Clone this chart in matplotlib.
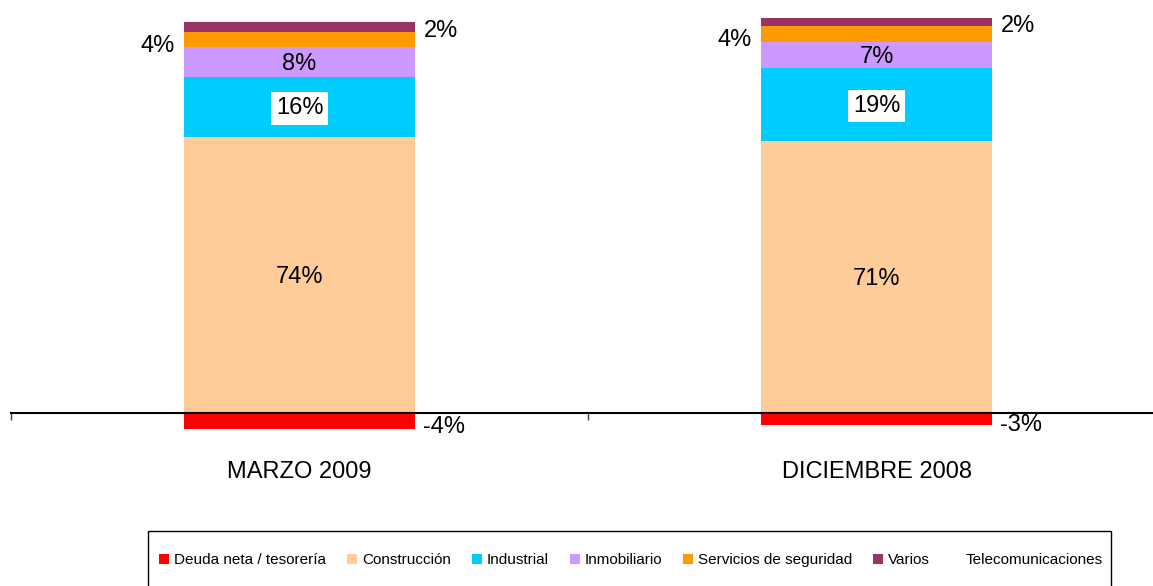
import matplotlib
matplotlib.use("Agg")
import matplotlib.pyplot as plt
from matplotlib.patches import Patch, Rectangle
import numpy as np

plt.rcParams['font.family'] = ['Liberation Sans', 'DejaVu Sans']

categories = ["MARZO 2009", "DICIEMBRE 2008"]
series_names = ["Deuda neta / tesorería", "Construcción", "Industrial", "Inmobiliario",
                "Servicios de seguridad", "Varios", "Telecomunicaciones"]
colors = ["#FF0000", "#FFCC99", "#00CCFF", "#CC99FF", "#FF9900", "#993366", "#FFFFFF"]

deuda = [-4.18, -3.04]
construccion = [73.56, 72.50]
industrial = [16.05, 19.36]
inmobiliario = [7.99, 7.08]
servicios = [3.99, 4.26]
varios = [2.66, 2.13]
telecom = [0.0, 0.0]

lbl_deuda = ["-4%", "-3%"]
lbl_construccion = ["74%", "71%"]
lbl_industrial = ["16%", "19%"]
lbl_inmobiliario = ["8%", "7%"]
lbl_servicios = ["4%", "4%"]
lbl_varios = ["2%", "2%"]

W, H = 1153, 586
fig = plt.figure(figsize=(W / 100, H / 100), dpi=100)
s = 3.756
zero_px = 413.3
ylo, yhi = -10, 110
top_px = zero_px - yhi * s
bot_px = zero_px - ylo * s
ax = fig.add_axes([11 / W, (H - bot_px) / H, 1154 / W, (bot_px - top_px) / H])
ax.set_xlim(-0.5, 1.5)
ax.set_ylim(ylo, yhi)

x = np.arange(len(categories))
bw = 0.4
ax.bar(x, deuda, bw, color=colors[0], zorder=1)
pos_series = [construccion, industrial, inmobiliario, servicios, varios, telecom]
bottom = np.zeros(len(categories))
centers = []
for vals, c in zip(pos_series, colors[1:]):
    vals = np.array(vals)
    ax.bar(x, vals, bw, bottom=bottom, color=c, zorder=1)
    centers.append(bottom + vals / 2)
    bottom = bottom + vals

fs = 17
def lab(xi, yc, text, dx_px, dy_px, ha, box=False):
    kw = {}
    if box:
        kw['bbox'] = dict(boxstyle='square,pad=0.22', facecolor='white', edgecolor='none')
    ax.annotate(text, xy=(xi, yc), xytext=(dx_px, -dy_px), textcoords='offset pixels',
                ha=ha, va='baseline', fontsize=fs, color='black', zorder=5, **kw)

half_px = bw / 2 * 577
for i in range(len(categories)):
    lab(x[i], centers[0][i], lbl_construccion[i], 0, 8, 'center')
    lab(x[i], centers[1][i], lbl_industrial[i], 0, 7.5, 'center', box=True)
    lab(x[i], centers[2][i], lbl_inmobiliario[i], 0, 7.8, 'center')
    lab(x[i], centers[3][i], lbl_servicios[i], -half_px - 9, 12.5, 'right')
    lab(x[i], centers[4][i], lbl_varios[i], half_px + 8.5, 10, 'left')
    lab(x[i], deuda[i] / 2, lbl_deuda[i], half_px + 8.5, 11.5, 'left')
    ax.annotate(categories[i], xy=(x[i], 0), xytext=(0, -64.7), textcoords='offset pixels',
                ha='center', va='baseline', fontsize=fs, color='black')

for sp in ['top', 'right', 'left']:
    ax.spines[sp].set_visible(False)
ax.spines['bottom'].set_position(('data', 0))
ax.spines['bottom'].set_linewidth(1.5)
ax.spines['bottom'].set_zorder(3)
ax.set_yticks([])
ax.set_xticks([-0.5, 0.5, 1.5])
ax.set_xticklabels([])
ax.tick_params(axis='x', direction='out', length=5, width=1, color='#404040')

handles = [Patch(facecolor=c, edgecolor='none') for c in colors]
fig.legend(handles, series_names, loc='center left', bbox_to_anchor=(159 / W, 1 - 560 / H),
           ncol=7, frameon=False, fontsize=11, handlelength=0.65, handleheight=0.65,
           handletextpad=0.33, columnspacing=1.37, borderpad=0, borderaxespad=0)
fig.patches.append(Rectangle((148 / W, -0.1), (1111 - 148) / W, 0.1 + (1 - 531 / H),
                             transform=fig.transFigure, facecolor='none', edgecolor='black',
                             linewidth=1.0))

fig.savefig("out.png", dpi=100)
